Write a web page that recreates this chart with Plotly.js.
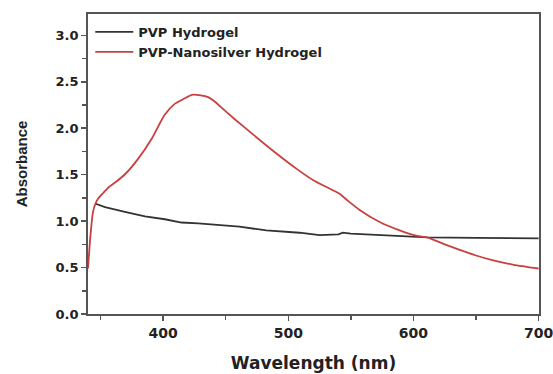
<!DOCTYPE html>
<html>
<head>
<meta charset="utf-8">
<script src="https://cdn.plot.ly/plotly-3.0.1.min.js"></script>
<style>html,body{margin:0;padding:0;background:#fff;}#chart{width:553px;height:374px;}</style>
</head>
<body>
<div id="chart"></div>
<script>
var seriesNames = ["PVP Hydrogel", "PVP-Nanosilver Hydrogel"];

var wavelengthPVP = [345.6, 353.6, 369.5, 385.5, 401.4, 414.7, 428, 445, 461, 482.5, 509, 525, 535.6, 540, 543.6, 550, 562, 589, 603, 611, 650, 700];
var absorbancePVP = [1.19, 1.15, 1.10, 1.05, 1.02, 0.985, 0.975, 0.96, 0.94, 0.90, 0.875, 0.85, 0.853, 0.858, 0.875, 0.865, 0.857, 0.84, 0.835, 0.825, 0.82, 0.815];

var wavelengthAg = [340, 342, 344, 346, 348, 352, 357, 363, 370, 380, 391, 401, 409, 417, 423, 430, 436, 441, 446, 457, 473, 489, 507, 520, 530, 536, 541, 548, 557, 573, 589, 603, 611, 625, 637, 650, 663, 680, 700];
var absorbanceAg = [0.49, 0.85, 1.10, 1.19, 1.24, 1.30, 1.37, 1.43, 1.51, 1.67, 1.89, 2.14, 2.26, 2.32, 2.36, 2.355, 2.335, 2.29, 2.23, 2.10, 1.92, 1.745, 1.56, 1.44, 1.37, 1.33, 1.295, 1.215, 1.12, 0.99, 0.90, 0.84, 0.825, 0.75, 0.69, 0.63, 0.58, 0.53, 0.49];

var xTitle = "Wavelength (nm)";
var yTitle = "Absorbance";

var axisColor = "#555555";
var textColor = "#222222";

var traces = [
  {x: wavelengthPVP, y: absorbancePVP, name: seriesNames[0], type: "scatter", mode: "lines",
   line: {color: "#333333", width: 1.8}},
  {x: wavelengthAg, y: absorbanceAg, name: seriesNames[1], type: "scatter", mode: "lines",
   line: {color: "#c8403f", width: 1.8, shape: "spline", smoothing: 0.6}}
];

var layout = {
  width: 553, height: 374,
  margin: {l: 88, r: 14, t: 14, b: 60},
  paper_bgcolor: "#ffffff", plot_bgcolor: "#ffffff",
  showlegend: true,
  legend: {x: 0.005, y: 0.99, xanchor: "left", yanchor: "top", bgcolor: "rgba(0,0,0,0)",
           font: {family: "DejaVu Sans", size: 13, weight: "bold", color: textColor},
           itemwidth: 38, tracegroupgap: 0},
  xaxis: {
    range: [340, 700.3], tick0: 400, dtick: 100, ticks: "outside", ticklen: 5, tickwidth: 1.5, tickcolor: axisColor,
    showline: true, linecolor: axisColor, linewidth: 1.8, mirror: true, showgrid: false, zeroline: false, automargin: false,
    ticklabeloverflow: "allow",
    tickfont: {family: "DejaVu Sans", size: 14, weight: "bold", color: textColor},
    minor: {dtick: 50, tick0: 350, ticks: "outside", ticklen: 4, tickwidth: 1.5, tickcolor: axisColor, showgrid: false},
    title: {text: xTitle, font: {family: "DejaVu Sans", size: 17, weight: "bold", color: textColor}, standoff: 17}
  },
  yaxis: {
    range: [0, 3.23], tick0: 0, dtick: 0.5, tickformat: ".1f", ticks: "outside", ticklen: 5, tickwidth: 1.5, tickcolor: axisColor,
    showline: true, linecolor: axisColor, linewidth: 1.8, mirror: true, showgrid: false, zeroline: false, automargin: false,
    tickfont: {family: "DejaVu Sans", size: 13, weight: "bold", color: textColor},
    minor: {dtick: 0.25, ticks: "outside", ticklen: 4, tickwidth: 1.5, tickcolor: axisColor, showgrid: false},
    title: {text: yTitle, font: {family: "Liberation Sans", size: 15, weight: "bold", color: textColor}, standoff: 24}
  }
};

Plotly.newPlot("chart", traces, layout, {displayModeBar: false, staticPlot: true});
</script>
</body>
</html>
